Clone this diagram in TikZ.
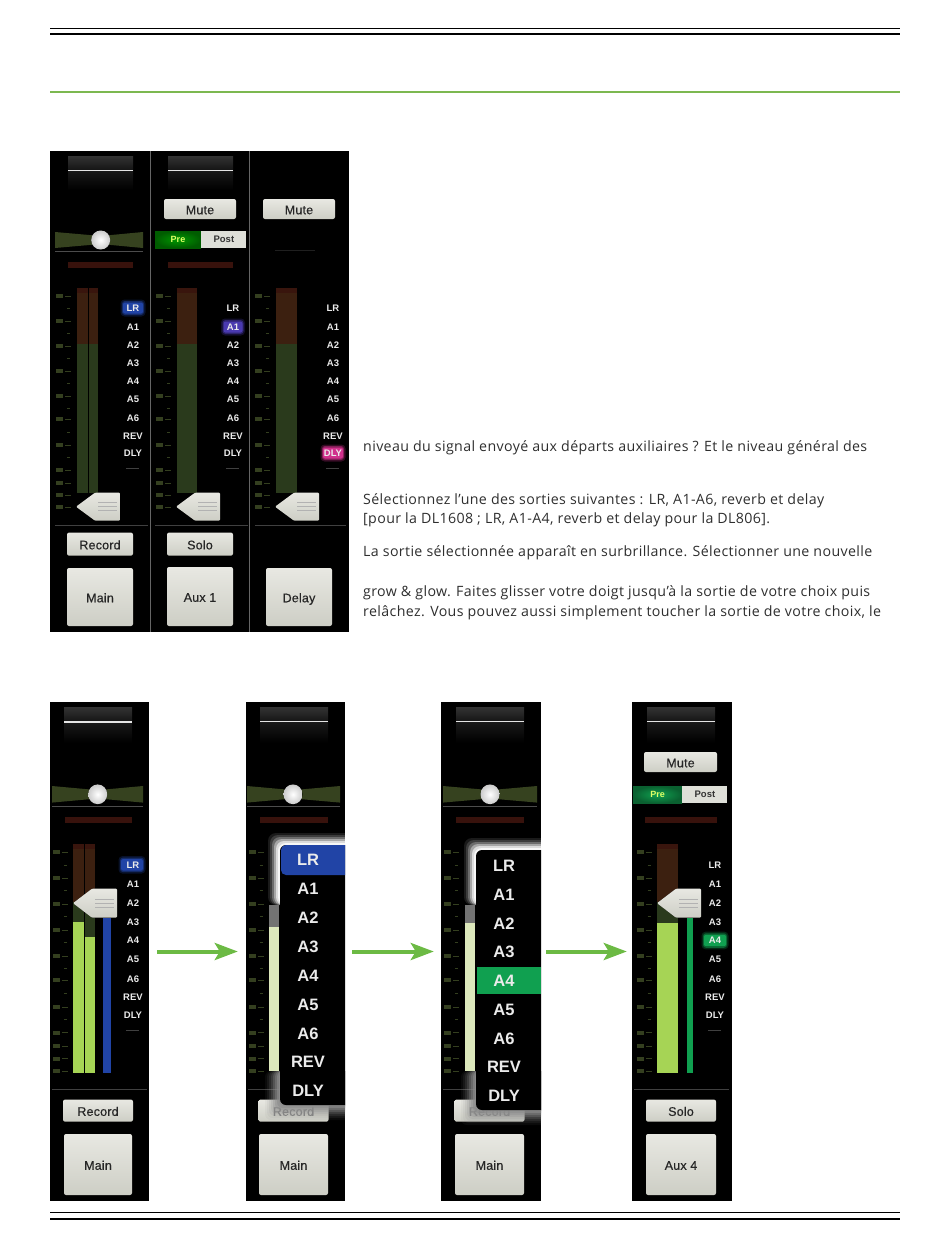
\documentclass[tikz,border=0pt]{standalone}
\usepackage{fontspec}
\setmainfont[Ligatures=NoCommon,LetterSpace=2.6]{Open Sans}
\newfontfamily\panelfont{Liberation Sans}
\newfontfamily\btnfont[FakeBold=0.4,LetterSpace=1.5]{Liberation Sans}
\usetikzlibrary{arrows.meta,positioning}

\definecolor{bodygrey}{HTML}{2E2E2E}
\definecolor{rulegreen}{HTML}{7CB850}
\definecolor{arrowgreen}{HTML}{6CBA44}
\definecolor{knobgrey}{HTML}{DEDFD8}
\definecolor{knobtop}{HTML}{E8E8E2}
\definecolor{knobfoot}{HTML}{CDCEC5}
\definecolor{redbar}{HTML}{38120C}
\definecolor{meterred}{HTML}{3C2010}
\definecolor{meterdim}{HTML}{2A3A1C}
\definecolor{meterlit}{HTML}{A6D455}
\definecolor{meterpale}{HTML}{DDE8BC}
\definecolor{panolive}{HTML}{36421F}
\definecolor{scaleolive}{HTML}{343F1F}
\definecolor{auxgreen}{HTML}{10A050}
\definecolor{lrblue}{HTML}{2144A6}
\definecolor{auxviolet}{HTML}{4A3AB0}
\definecolor{dlypink}{HTML}{D0308C}

\tikzset{
  screen/.style={fill=black,inner sep=0pt,minimum width=99pt},
  tallstrip/.style={yscale=1.037},
  flowarrow/.style={arrowgreen,line width=4pt,-{Stealth[length=23pt,width=17pt,inset=5pt]}},
  sepline/.style={draw=black!60,line width=.8pt},
  smallbtn/.style={top color=knobtop,bottom color=knobfoot,rounded corners=2pt,inner sep=0pt,text=black!85,
    text height=10.5pt,text depth=0pt,minimum height=22pt,font=\btnfont\fontsize{12.5}{14}\selectfont},
  bigbtn/.style={smallbtn,minimum height=60pt},
  prebtn/.style={inner color=#1,outer color=#1!60!black,inner sep=0pt,minimum height=17pt,minimum width=46pt,
    text=green!20!yellow!60!white,font=\panelfont\bfseries\fontsize{9}{10}\selectfont},
  postbtn/.style={fill=knobgrey,inner sep=0pt,minimum height=17pt,minimum width=46pt,text=black!80,
    font=\panelfont\bfseries\fontsize{9.5}{10}\selectfont},
  outlabel/.style={inner sep=0pt,text=white!92!black,font=\panelfont\bfseries\fontsize{9.5}{11}\selectfont},
  bigoutlabel/.style={inner sep=0pt,text=white!92!black,font=\panelfont\bfseries\fontsize{16.5}{18}\selectfont},
  bodytext/.style={anchor=base west,inner sep=0pt,text=bodygrey,font=\fontsize{14.2}{18}\selectfont},
}

% marks of the fader scale, #1 is their left edge
\newcommand{\scalemarks}[1]{
  \foreach \yy in {145,170,195,220,245,268,294,319,332,344,356}{
    \fill[scaleolive] (#1,\yy-2) rectangle ++(7,4);
    \draw[scaleolive,line width=.7pt] (#1+9,\yy) -- ++(6,0);
  }
  \foreach \yy in {157,182,207,232,257,281,306}{
    \draw[scaleolive,line width=.6pt] (#1+11,\yy) -- ++(3,0);
  }
}
% #1 left, #2 right, #3 thickness of the white line
\newcommand{\topblock}[3]{
  \fill[top color=black!80,bottom color=black!92] (#1,5) rectangle (#2,19);
  \fill[top color=black!90,bottom color=black] (#1,19) rectangle (#2,39);
  \draw[white!90!black,line width=#3] (#1,19) -- (#2,19);
}
% #1 left, #2 right, #3 centre of the knob
\newcommand{\panbar}[3]{
  \fill[panolive] (#1,81) -- (#3,85) -- (#2,81) -- (#2,97) -- (#3,93) -- (#1,97) -- cycle;
  \draw[black!70,line width=.5pt] (#1,100.5) -- (#2,100.5);
  \fill[inner color=white,outer color=black!20] (#3,89) circle (9.5pt);
}
\newcommand{\redstrip}[2]{\fill[redbar] (#1,111) rectangle (#2,117);}
% #1 left, #2 right, #3 foot
\newcommand{\meterbar}[3]{
  \fill[meterred] (#1,137) rectangle (#2,193);
  \fill[redbar!80!meterred] (#1,137) rectangle (#2,142);
  \fill[meterdim] (#1,193) rectangle (#2,#3);
}
% #1 tip, #2 height of the tip
\newcommand{\faderknob}[2]{
  \fill[top color=knobtop,bottom color=knobfoot,rounded corners=1pt] (#1,#2) -- (#1+19,#2-14) -- (#1+44,#2-14) -- (#1+44,#2+14) -- (#1+19,#2+14) -- cycle;
  \foreach \dd in {-4,0,4}{
    \draw[black!30,line width=.5pt] (#1+22,#2+\dd) -- (#1+41,#2+\dd);
  }
}
% #1 centre, #2 height, #3 half width, #4 colour
\newcommand{\hilite}[4]{
  \fill[#4,opacity=.25,rounded corners=4pt] (#1-#3-2.5,#2-8.5) rectangle (#1+#3+2.5,#2+8.5);
  \fill[#4,opacity=.5,rounded corners=3pt] (#1-#3-1,#2-7) rectangle (#1+#3+1,#2+7);
  \fill[#4,rounded corners=2pt] (#1-#3,#2-5.5) rectangle (#1+#3,#2+5.5);
}
% #1 prefix of the names, #2 centre
\newcommand{\outlabels}[2]{
  \foreach \lab/\yy in {LR/157,A1/176,A2/194,A3/212,A4/230,A5/248,A6/267,REV/285,DLY/302}{
    \node[outlabel] (#1\lab) at (#2,\yy) {\lab};
  }
  \draw[black!75,line width=.5pt] (#2-7,317) -- (#2+6,317);
}
% #1 strip, #2 left, #3 top, #4 foot, #5 pale meter top
\newcommand{\popupbox}[5]{
  \begin{scope}
    \clip (#1.south west) rectangle (#1.north east);
    \foreach \gg/\oo in {15/.08,13/.1,11/.15,9/.2,7/.3,5/.4,3/.6,1/.8}{
      \fill[white!55!black,opacity=\oo,rounded corners=6pt] (#2-\gg,1071) rectangle (#2+140,#4+\gg);
    }
    \foreach \gg/\oo in {12/.1,10/.15,8/.25,6/.4,4/.6,2/.8}{
      \fill[white,opacity=\oo,rounded corners=8pt] (#2-\gg,#3-\gg) rectangle (#2+140,905);
    }
    \fill[black!55] (#2-11,905) rectangle (#2-1,#5);
    \fill[meterpale] (#2-11,#5) rectangle (#2-1,1071);
    \fill[black,rounded corners=6pt] (#2,#3) rectangle (#2+140,#4);
  \end{scope}
}
% #1 prefix, #2 centre, #3 first row, #4 step
\newcommand{\popuplabels}[4]{
  \foreach \lab [count=\ii from 0] in {LR,A1,A2,A3,A4,A5,A6,REV,DLY}{
    \node[bigoutlabel] (#1\lab) at (#2,{#3+\ii*#4}) {\lab};
  }
}

\begin{document}
\begin{tikzpicture}[x=1pt,y=-1pt]
  \useasboundingbox (0,0) rectangle (950,1254);

  % page rules
  \draw[black,line width=.8pt] (50,28) -- (900,28);
  \draw[black,line width=2pt] (50,33.5) -- (900,33.5);
  \draw[rulegreen,line width=1.6pt] (50,92) -- (900,92);
  \draw[black,line width=.8pt] (50,1212.7) -- (900,1212.7);
  \draw[black,line width=2pt] (50,1218.5) -- (900,1218.5);

  % upper group of strips
  \node[screen,minimum width=100pt,minimum height=481pt] (mixMain) at (100,391.5) {};
  \node[screen,minimum height=481pt] (mixAux) [right=0pt of mixMain] {};
  \node[screen,minimum height=481pt] (mixDelay) [right=0pt of mixAux] {};
  \draw[sepline] (mixMain.north east) -- (mixMain.south east);
  \draw[sepline] (mixAux.north east) -- (mixAux.south east);

  \begin{scope}[shift={(50,151)}]
    \scalemarks{6}
    \topblock{18}{83}{1pt}
    \panbar{5}{93}{50.7}
    \redstrip{18}{83}
    \meterbar{27}{38}{342}
    \meterbar{38.5}{48}{342}
    \faderknob{26}{355.7}
    \hilite{83}{157}{10}{lrblue}
    \outlabels{up}{83}
    \draw[black!75,line width=.6pt] (5,374) -- (98,374);
  \end{scope}
  \begin{scope}[shift={(150,151)}]
    \scalemarks{6}
    \topblock{18}{83}{1pt}
    \redstrip{18}{83}
    \meterbar{27}{47}{342}
    \faderknob{26}{355.7}
    \hilite{83}{176}{9.5}{auxviolet}
    \outlabels{ux}{83}
    \draw[black!75,line width=.6pt] (5,374) -- (98,374);
  \end{scope}
  \begin{scope}[shift={(250,151)}]
    \scalemarks{5}
    \draw[black!88,line width=.5pt] (25,99) -- (65,99);
    \meterbar{26}{47}{342}
    \faderknob{25}{355.7}
    \hilite{83}{302}{10}{dlypink}
    \outlabels{ud}{83}
    \draw[black!75,line width=.6pt] (5,374) -- (96,374);
  \end{scope}

  \node[smallbtn,minimum width=72pt,minimum height=20pt] (muteAux) at (200,209) {Mute};
  \node[prebtn=green!60!black,minimum width=46pt] (preAux) at (178,239.5) {Pre};
  \node[postbtn,minimum width=45pt] (postAux) [right=0pt of preAux] {Post};
  \node[smallbtn,minimum width=72pt,minimum height=20pt] (muteDelay) at (299,209) {Mute};

  \node[bigbtn,minimum width=66pt,minimum height=58pt] (mainUp) at (100,597) {Main};
  \node[smallbtn,minimum width=66pt,minimum height=23pt] (recordUp) [above=12pt of mainUp] {Record};
  \node[bigbtn,minimum width=66pt,minimum height=59pt] (auxUp) at (200,596.5) {Aux 1};
  \node[smallbtn,minimum width=66pt,minimum height=23pt] (soloUp) [above=11pt of auxUp] {Solo};
  \node[bigbtn,minimum width=66pt,minimum height=58pt] (delayUp) at (299,597) {Delay};

  % text beside the strips
  \node[bodytext] (lineA) at (363,451.7) {niveau du signal envoyé aux départs auxiliaires ? Et le niveau général des};
  \node[bodytext] (lineB) at (363,504) {Sélectionnez l’une des sorties suivantes : LR, A1-A6, reverb et delay};
  \node[bodytext] (lineC) at (363,523.3) {[pour la DL1608 ; LR, A1-A4, reverb et delay pour la DL806].};
  \node[bodytext] (lineD) at (363,556) {La sortie sélectionnée apparaît en surbrillance. Sélectionner une nouvelle};
  \node[bodytext] (lineE) at (363,596.7) {grow \& glow. Faites glisser votre doigt jusqu’à la sortie de votre choix puis};
  \node[bodytext] (lineF) at (363,616.7) {relâchez. Vous pouvez aussi simplement toucher la sortie de votre choix, le};

  % lower group of strips
  \node[screen,minimum height=499pt] (stripA) at (99.5,951.5) {};
  \node[screen,minimum height=499pt] (stripB) at (295.5,951.5) {};
  \node[screen,minimum height=499pt,minimum width=100pt] (stripC) at (491,951.5) {};
  \node[screen,minimum height=499pt,minimum width=100pt] (stripD) at (682,951.5) {};

  \begin{scope}[shift={(50,702)},tallstrip]
    \scalemarks{3}
    \topblock{14}{82}{1.8pt}
    \panbar{2}{93}{47.7}
    \redstrip{15}{82}
    \meterbar{23}{34}{358}
    \meterbar{35}{45}{358}
    \fill[meterlit] (23,212) rectangle (34,358);
    \fill[meterlit] (35,226.6) rectangle (45,358);
    \fill[lrblue] (53,208) rectangle (61,358);
    \faderknob{23}{194}
    \hilite{82}{157}{11}{lrblue}
    \outlabels{a}{83}
    \draw[black!75,line width=.6pt] (2,373) -- (97,373);
  \end{scope}
  \begin{scope}[shift={(246,702)},tallstrip]
    \scalemarks{2.5}
    \topblock{14}{82}{1pt}
    \panbar{1}{94}{47}
    \redstrip{14}{82}
    \draw[black!75,line width=.6pt] (2,373) -- (34,373);
  \end{scope}
  \begin{scope}[shift={(441,702)},tallstrip]
    \scalemarks{3}
    \topblock{15}{83}{1pt}
    \panbar{2}{96}{49}
    \redstrip{15}{83}
    \draw[black!75,line width=.6pt] (2,373) -- (34,373);
  \end{scope}
  \begin{scope}[shift={(632,702)},tallstrip]
    \scalemarks{4.7}
    \topblock{15}{83}{1pt}
    \redstrip{13}{85}
    \meterbar{25}{46}{358}
    \fill[meterlit] (25,213) rectangle (46,358);
    \fill[auxgreen] (55,208) rectangle (61,358);
    \faderknob{25}{194}
    \hilite{83}{230}{11}{auxgreen}
    \outlabels{d}{83}
    \draw[black!75,line width=.6pt] (2,373) -- (97,373);
  \end{scope}

  \node[smallbtn,minimum width=73pt,minimum height=20pt] (muteD) at (680.5,762) {Mute};
  \node[prebtn=auxgreen,minimum width=49pt] (preD) at (657.5,794.5) {Pre};
  \node[postbtn,minimum width=45pt] (postD) [right=0pt of preD] {Post};

  \node[bigbtn,minimum width=68pt,minimum height=61pt] (mainA) at (98,1164.5) {Main};
  \node[smallbtn,minimum width=70pt] (recordA) [above=12pt of mainA] {Record};
  \node[bigbtn,minimum width=69pt,minimum height=61pt] (mainB) at (293.5,1164.5) {Main};
  \node[smallbtn,minimum width=70pt,text=black!50] (recordB) [above=12pt of mainB] {Record};
  \node[bigbtn,minimum width=69pt,minimum height=61pt] (mainC) at (489.5,1164.5) {Main};
  \node[smallbtn,minimum width=70pt,text=black!50] (recordC) [above=12pt of mainC] {Record};
  \node[bigbtn,minimum width=70pt,minimum height=61pt] (auxD) at (681,1164.5) {Aux 4};
  \node[smallbtn,minimum width=70pt] (soloD) [above=12pt of auxD] {Solo};

  \popupbox{stripB}{280}{845}{1105}{927}
  \begin{scope}
    \clip (stripB.south west) rectangle (stripB.north east);
    \fill[lrblue,rounded corners=5pt] (281,845) rectangle (360,875);
  \end{scope}
  \popuplabels{b}{308}{860}{28.9}

  \popupbox{stripC}{476}{850}{1110}{923}
  \fill[auxgreen] (477,967) rectangle (541,994);
  \popuplabels{c}{504}{866}{28.75}

  % arrows
  \draw[flowarrow,shorten <=8pt,shorten >=8pt] (stripA) -- (stripB);
  \draw[flowarrow,shorten <=7pt,shorten >=7pt] (stripB) -- (stripC);
  \draw[flowarrow,shorten <=5pt,shorten >=5pt] (stripC) -- (stripD);
\end{tikzpicture}
\end{document}
